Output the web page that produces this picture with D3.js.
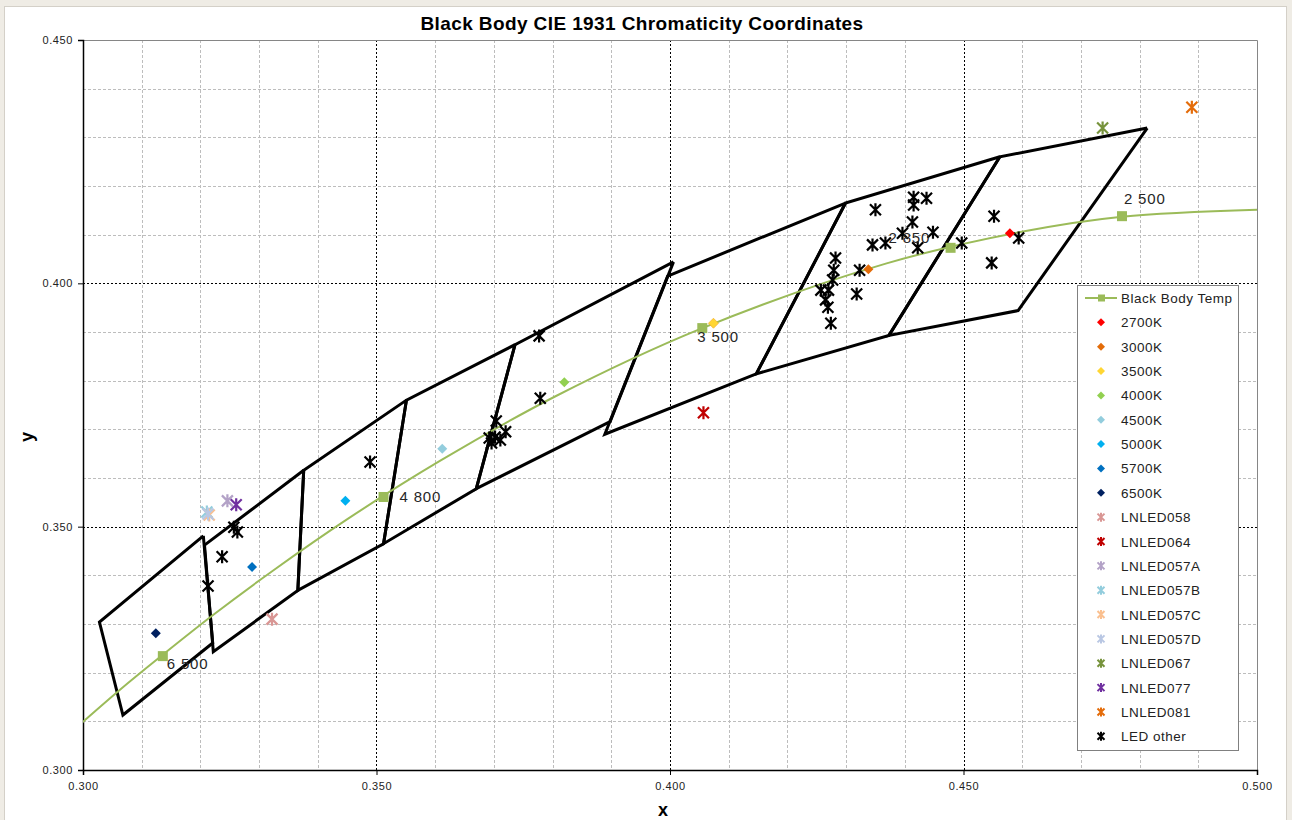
<!DOCTYPE html>
<html>
<head>
<meta charset="utf-8">
<script src="https://cdn.jsdelivr.net/npm/d3@7"></script>
<style>
  body { margin: 0; background: #efece5; }
  text { font-family: "Liberation Sans", Arial, sans-serif; }
</style>
</head>
<body>
<svg id="chart" width="1292" height="820"></svg>
<script>
// Black body (Planckian) locus, drawn as a smooth line
const locusX = [0.2952, 0.3064, 0.3135, 0.3221, 0.3324, 0.3451, 0.3608, 0.3805, 0.4053, 0.4369, 0.4599, 0.4770, 0.5019];
const locusY = [0.3048, 0.3166, 0.3236, 0.3318, 0.3410, 0.3516, 0.3635, 0.3768, 0.3907, 0.4041, 0.4106, 0.4137, 0.4152];

// Labelled points on the locus (square markers)
const bbLabels = ["6 500", "4 800", "3 500", "2 850", "2 500"];
const bbX = [0.3136, 0.3512, 0.4055, 0.4478, 0.4770];
const bbY = [0.3234, 0.3561, 0.3908, 0.4073, 0.4138];

// Nominal CCT points (diamonds)
const cctNames = ["2700K", "3000K", "3500K", "4000K", "4500K", "5000K", "5700K", "6500K"];
const cctX = [0.4579, 0.4338, 0.4074, 0.3820, 0.3612, 0.3447, 0.3288, 0.3124];
const cctY = [0.4103, 0.4029, 0.3918, 0.3797, 0.3660, 0.3553, 0.3417, 0.3281];
const cctColors = ["#ff0000", "#e36c09", "#ffd633", "#92d050", "#93cddd", "#00b0f0", "#0070c0", "#002060"];

// Measured LNLED lamps (stars)
const lnNames = ["LNLED058", "LNLED064", "LNLED057A", "LNLED057B", "LNLED057C", "LNLED057D", "LNLED067", "LNLED077", "LNLED081"];
const lnX = [0.3322, 0.4057, 0.3246, 0.3211, 0.3215, 0.3213, 0.4737, 0.3261, 0.4889];
const lnY = [0.3310, 0.3734, 0.3553, 0.3530, 0.3524, 0.3526, 0.4319, 0.3545, 0.4362];
const lnColors = ["#d99694", "#c00000", "#b3a2c7", "#93cddd", "#fac090", "#b9c7e3", "#77933c", "#7030a0", "#e46c0a"];

// Other LEDs (black stars)
const otherX = [0.3257, 0.3263, 0.3237, 0.3213, 0.3489, 0.3777, 0.3779, 0.3704, 0.3692, 0.3702, 0.3711, 0.3720, 0.3696,
  0.4350, 0.4415, 0.4415, 0.4437, 0.4413, 0.4396, 0.4448, 0.4345, 0.4367, 0.4422, 0.4497, 0.4552, 0.4594, 0.4548,
  0.4282, 0.4279, 0.4277, 0.4270, 0.4257, 0.4265, 0.4269, 0.4274, 0.4323, 0.4318];
const otherY = [0.3499, 0.3489, 0.3438, 0.3378, 0.3633, 0.3892, 0.3764, 0.3717, 0.3682, 0.3684, 0.3678, 0.3695, 0.3672,
  0.4151, 0.4177, 0.4161, 0.4175, 0.4126, 0.4103, 0.4105, 0.4079, 0.4083, 0.4073, 0.4083, 0.4138, 0.4093, 0.4042,
  0.4052, 0.4027, 0.4007, 0.3986, 0.3986, 0.3966, 0.3951, 0.3918, 0.4027, 0.3978];

// ANSI C78.377 quadrangles (x, y corners)
const quadNames = ["2700K", "3000K", "3500K", "4000K", "4500K", "5000K", "5700K", "6500K"];
const quadX = [
  [0.4813, 0.4562, 0.4373, 0.4593],
  [0.4562, 0.4299, 0.4147, 0.4373],
  [0.4299, 0.3996, 0.3889, 0.4147],
  [0.4006, 0.3736, 0.3670, 0.3898],
  [0.3736, 0.3551, 0.3512, 0.3670],
  [0.3551, 0.3376, 0.3366, 0.3512],
  [0.3376, 0.3207, 0.3222, 0.3366],
  [0.3205, 0.3028, 0.3068, 0.3221]
];
const quadY = [
  [0.4319, 0.4260, 0.3893, 0.3944],
  [0.4260, 0.4165, 0.3814, 0.3893],
  [0.4165, 0.4015, 0.3690, 0.3814],
  [0.4044, 0.3874, 0.3578, 0.3716],
  [0.3874, 0.3760, 0.3465, 0.3578],
  [0.3760, 0.3616, 0.3369, 0.3465],
  [0.3616, 0.3462, 0.3243, 0.3369],
  [0.3481, 0.3304, 0.3113, 0.3261]
];

const xTicks = [0.300, 0.350, 0.400, 0.450, 0.500];
const yTicks = [0.300, 0.350, 0.400, 0.450];

const svg = d3.select("#chart");
const pLeft = 83, pRight = 1257, pTop = 40, pBottom = 770;

const x = d3.scaleLinear().domain([0.3, 0.5]).range([pLeft, pRight]);
const y = d3.scaleLinear().domain([0.3, 0.45]).range([pBottom, pTop]);

// chart area
svg.append("rect")
  .attr("x", 4.5).attr("y", 6.5).attr("width", 1282).attr("height", 820)
  .attr("fill", "#ffffff").attr("stroke", "#d4d0c8");

svg.append("defs").append("clipPath").attr("id", "plotclip")
  .append("rect").attr("x", pLeft).attr("y", pTop).attr("width", pRight - pLeft).attr("height", pBottom - pTop);

// gridlines: minor every 0.01 gray, major every 0.05 black dotted
const minorX = d3.range(0.31, 0.5, 0.01).filter(v => Math.abs(v * 20 - Math.round(v * 20)) > 1e-6);
const minorY = d3.range(0.31, 0.45, 0.01).filter(v => Math.abs(v * 20 - Math.round(v * 20)) > 1e-6);
const grid = svg.append("g");
grid.selectAll(".mx").data(minorX).join("line")
  .attr("x1", d => Math.round(x(d)) + 0.5).attr("x2", d => Math.round(x(d)) + 0.5)
  .attr("y1", pTop).attr("y2", pBottom)
  .attr("stroke", "#bdbdbd").attr("stroke-dasharray", "3,2");
grid.selectAll(".my").data(minorY).join("line")
  .attr("y1", d => Math.round(y(d)) + 0.5).attr("y2", d => Math.round(y(d)) + 0.5)
  .attr("x1", pLeft).attr("x2", pRight)
  .attr("stroke", "#bdbdbd").attr("stroke-dasharray", "3,2");
grid.selectAll(".Mx").data(xTicks.slice(1, -1)).join("line")
  .attr("x1", d => Math.round(x(d)) + 0.5).attr("x2", d => Math.round(x(d)) + 0.5)
  .attr("y1", pTop).attr("y2", pBottom)
  .attr("stroke", "#000").attr("stroke-dasharray", "2,2");
grid.selectAll(".My").data(yTicks.slice(1, -1)).join("line")
  .attr("y1", d => Math.round(y(d)) + 0.5).attr("y2", d => Math.round(y(d)) + 0.5)
  .attr("x1", pLeft).attr("x2", pRight)
  .attr("stroke", "#000").attr("stroke-dasharray", "2,2");

// plot frame: top / right grey
svg.append("path")
  .attr("d", `M${pLeft},${pTop + 0.5}H${pRight + 0.5}V${pBottom}`)
  .attr("fill", "none").attr("stroke", "#868686");

// axes
const xAxis = svg.append("g").attr("transform", `translate(0,${pBottom})`)
  .call(d3.axisBottom(x).tickValues(xTicks).tickFormat(d3.format(".3f")).tickSizeOuter(0).tickSize(5));
const yAxis = svg.append("g").attr("transform", `translate(${pLeft},0)`)
  .call(d3.axisLeft(y).tickValues(yTicks).tickFormat(d3.format(".3f")).tickSizeOuter(0).tickSize(5));
[xAxis, yAxis].forEach(a => {
  a.select(".domain").attr("stroke", "#000").attr("stroke-width", 1.5);
  a.selectAll(".tick line").attr("stroke", "#000");
  a.selectAll(".tick text").attr("font-size", "11px").attr("fill", "#222")
    .attr("font-family", "Liberation Sans, Arial").attr("letter-spacing", "0.6px");
});
xAxis.selectAll(".tick text").attr("dy", "1.05em");
yAxis.selectAll(".tick text").attr("x", -10);

// quadrangles
const plot = svg.append("g").attr("clip-path", "url(#plotclip)");
const quadLine = d3.line().x(d => x(d[0])).y(d => y(d[1]));
quadNames.forEach((name, i) => {
  const pts = quadX[i].map((v, j) => [v, quadY[i][j]]);
  pts.push(pts[0]);
  plot.append("path")
    .attr("d", quadLine(pts))
    .attr("fill", "none")
    .attr("stroke", "#000")
    .attr("stroke-width", 3)
    .attr("stroke-linejoin", "miter");
});

// black body locus
plot.append("path")
  .datum(locusX.map((v, i) => [v, locusY[i]]))
  .attr("d", d3.line().x(d => x(d[0])).y(d => y(d[1])).curve(d3.curveCatmullRom))
  .attr("fill", "none").attr("stroke", "#9bbb59").attr("stroke-width", 2);

// marker shapes
function diamond(s) { return `M0,${-s}L${s},0L0,${s}L${-s},0Z`; }
function star(s) {
  return `M${-s},${-s}L${s},${s}M${-s},${s}L${s},${-s}M0,${-s - 1}L0,${s + 1}`;
}

// other LEDs
otherX.forEach((v, i) => {
  svg.append("path")
    .attr("transform", `translate(${x(v)},${y(otherY[i])})`)
    .attr("d", star(5.5)).attr("fill", "none")
    .attr("stroke", "#000").attr("stroke-width", 2.2);
});

// LNLED lamps
lnX.forEach((v, i) => {
  svg.append("path")
    .attr("transform", `translate(${x(v)},${y(lnY[i])})`)
    .attr("d", star(5.5)).attr("fill", "none")
    .attr("stroke", lnColors[i]).attr("stroke-width", 2.2);
});

// black body squares + labels
bbX.forEach((v, i) => {
  svg.append("rect")
    .attr("x", x(v) - 5).attr("y", y(bbY[i]) - 5)
    .attr("width", 10).attr("height", 10)
    .attr("fill", "#9bbb59");
});
const labelOffset = [[4, 13], [16, 5], [-5, 14], [-62, -5], [2, -12]];
bbLabels.forEach((t, i) => {
  svg.append("text")
    .attr("x", x(bbX[i]) + labelOffset[i][0])
    .attr("y", y(bbY[i]) + labelOffset[i][1])
    .attr("font-size", "15px").attr("fill", "#262626").attr("letter-spacing", "0.8px")
    .text(t);
});

// CCT diamonds
cctX.forEach((v, i) => {
  svg.append("path")
    .attr("transform", `translate(${x(v)},${y(cctY[i])})`)
    .attr("d", diamond(5))
    .attr("fill", cctColors[i])
    .attr("stroke", i === 2 ? "#f5b335" : "none").attr("stroke-width", 0.8);
});

// title + axis titles
svg.append("text")
  .attr("x", 642).attr("y", 30).attr("text-anchor", "middle")
  .attr("font-size", "19px").attr("font-weight", "bold").attr("fill", "#000")
  .attr("letter-spacing", "0.4px")
  .text("Black Body CIE 1931 Chromaticity Coordinates");
svg.append("text")
  .attr("x", 663).attr("y", 816).attr("text-anchor", "middle")
  .attr("font-size", "18px").attr("font-weight", "bold")
  .text("x");
svg.append("text")
  .attr("transform", "translate(33,437) rotate(-90)").attr("text-anchor", "middle")
  .attr("font-size", "18px").attr("font-weight", "bold")
  .text("y");

// legend
const lg = svg.append("g");
lg.append("rect")
  .attr("x", 1077.5).attr("y", 285.5).attr("width", 161).attr("height", 465)
  .attr("fill", "#fff").attr("stroke", "#808080");
const step = 24.35, ly0 = 298;
const legendItems = [{ name: "Black Body Temp", type: "line", color: "#9bbb59" }]
  .concat(cctNames.map((n, i) => ({ name: n, type: "diamond", color: cctColors[i] })))
  .concat(lnNames.map((n, i) => ({ name: n, type: "star", color: lnColors[i] })))
  .concat([{ name: "LED other", type: "star", color: "#000" }]);
legendItems.forEach((it, i) => {
  const cy = ly0 + i * step;
  if (it.type === "line") {
    lg.append("line").attr("x1", 1085).attr("x2", 1117).attr("y1", cy).attr("y2", cy)
      .attr("stroke", it.color).attr("stroke-width", 2);
    lg.append("rect").attr("x", 1098).attr("y", cy - 3.5).attr("width", 7).attr("height", 7).attr("fill", it.color);
  } else if (it.type === "diamond") {
    lg.append("path").attr("transform", `translate(1101,${cy})`).attr("d", diamond(4)).attr("fill", it.color);
  } else {
    lg.append("path").attr("transform", `translate(1101,${cy})`).attr("d", star(3.5))
      .attr("fill", "none").attr("stroke", it.color).attr("stroke-width", 2);
  }
  lg.append("text").attr("x", 1121).attr("y", cy + 5)
    .attr("font-size", "13.5px").attr("fill", "#222").attr("letter-spacing", "0.5px")
    .text(it.name);
});
</script>
</body>
</html>
